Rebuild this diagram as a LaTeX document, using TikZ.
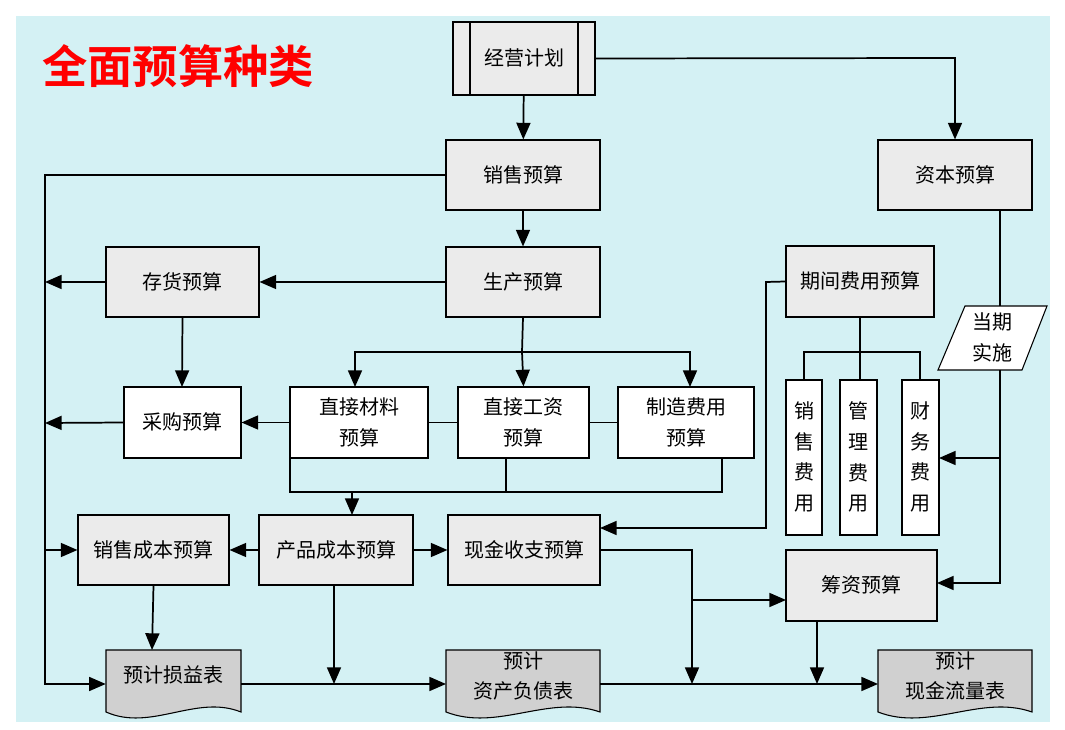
\documentclass[tikz,border=0pt]{standalone}
\usepackage{fontspec}
\setmainfont{Noto Sans CJK SC}
\newfontfamily\cjkb{Noto Sans CJK SC Bold}
\usetikzlibrary{arrows.meta,fit}
\definecolor{panel}{HTML}{D4F1F4}
\definecolor{boxg}{HTML}{EBEBEB}
\definecolor{docg}{HTML}{D0D0D0}
\newcommand\bxt[5]{\node[#1,fit={#2}] (#3) {}; \node[ghost,#5] at ([yshift=0.3pt]#3.center) {#4};}
\begin{document}
\begin{tikzpicture}[x=0.75pt,y=-0.75pt,
  every node/.style={font=\fontsize{15}{23}\selectfont},
  box/.style={draw,line width=0.8pt,fill=boxg,inner sep=0pt},
  wbox/.style={box,fill=white},
  ghost/.style={inner sep=0pt,align=center},
  ln/.style={line width=1.3pt},
  ar/.style={ln,-{Triangle[length=12.5pt,width=10.5pt]}},
]
\useasboundingbox (0,0) rectangle (1065,730);
\fill[white] (0,0) rectangle (1065,730);
\fill[panel] (16,16) rectangle (1050,722);
\node[text=red,font=\cjkb\fontsize{34}{40}\selectfont] (title) at (178,66) {全面预算种类};

% boxes
\bxt{box}{(453,22)(595,95)}{jy}{经营计划}{}
\draw[line width=0.8pt] (470,22) -- (470,95) (578,22) -- (578,95);
\bxt{box}{(446,140)(600,210)}{xs}{销售预算}{}
\bxt{box}{(878,140)(1032,210)}{zb}{资本预算}{}
\bxt{box}{(106,247)(259,317)}{ch}{存货预算}{}
\bxt{box}{(446,247)(600,317)}{sc}{生产预算}{}
\bxt{box}{(786,246)(934,317)}{qj}{期间费用预算}{}
\draw[line width=0.8pt,fill=white] (965,306) -- (1047,306) -- (1022,370) -- (938,370) -- cycle;
\node[ghost,fit={(950,306)(1035,370)}] (dq) {};
\node[ghost] at ([yshift=0.3pt]dq.center) {当期\\实施};
\bxt{wbox}{(124,387)(241,458)}{cg}{采购预算}{}
\bxt{wbox}{(290,387)(428,458)}{zc}{直接材料\\预算}{}
\bxt{wbox}{(458,387)(589,458)}{zg}{直接工资\\预算}{}
\bxt{wbox}{(618,387)(754,458)}{zz}{制造费用\\预算}{}
\bxt{wbox}{(786,380)(822,535)}{xf}{销\\售\\费\\用}{}
\bxt{wbox}{(840,380)(877,535)}{gf}{管\\理\\费\\用}{}
\bxt{wbox}{(902,380)(939,535)}{cf}{财\\务\\费\\用}{}
\bxt{box}{(78,515)(229,585)}{xc}{销售成本预算}{}
\bxt{box}{(259,515)(413,585)}{cp}{产品成本预算}{}
\bxt{box}{(448,515)(600,585)}{xj}{现金收支预算}{}
\bxt{box}{(786,550)(937,621)}{cz}{筹资预算}{}

% documents
\foreach \a/\b in {106/241,446/600,878/1032}{
  \draw[line width=0.8pt,fill=docg] (\a,650) -- (\b,650) -- (\b,712)
    .. controls ({\b-(\b-\a)/3},694) and ({\a+(\b-\a)/3},732) .. (\a,712) -- cycle;}
\node[ghost,fit={(106,650)(241,700)}] (sy) {};
\node[ghost] at (sy.center) {预计损益表};
\node[ghost,fit={(446,650)(600,702)}] (zf) {};
\node[ghost] at (zf.center) {预计\\资产负债表};
\node[ghost,fit={(878,650)(1032,702)}] (xl) {};
\node[ghost] at (xl.center) {预计\\现金流量表};

% connectors
\draw[ar] (jy) -- (xs);
\draw[ar] (jy.east) -- (955,58) -- (zb.north);
\draw[ar] (xs.west) -- (45,175) -- (45,684) -- (sy.west|-0,684);
\draw[ar] (xs) -- (sc);
\draw[ar] (sc) -- (ch);
\draw[ar] (ch.west) -- (45,282);
\draw[ar] (ch.south) -- (182,387);
\draw[ar] (cg.west) -- (45,423);
\draw[ar] (zc) -- (cg);
\draw[ln] (sc.south) -- (522,352);
\draw[ar] (522,352) -- (355,352) -- (355,387);
\draw[ar] (522,352) -- (690,352) -- (690,387);
\draw[ar] (522,352) -- (zg.north);
\draw[ln] (zc) -- (zg) (zg) -- (zz);
\draw[ln] (290,458) -- (290,492) -- (722,492) -- (722,458);
\draw[ln] (506,458) -- (506,492);
\draw[ar] (352,492) -- (352,515);
\draw[ar] (cp) -- (xc);
\draw[ar] (cp) -- (xj);
\draw[ar] (45,550) -- (xc.west);
\draw[ar] (xc.south) -- (152,650);
\draw[ar] (334,585) -- (334,684);
\draw[ar] (sy.east|-0,684) -- (446,684);
\draw[ar] (600,684) -- (878,684);
\draw[ar] (xj.east) -- (692,550) -- (692,684);
\draw[ar] (692,600) -- (786,600);
\draw[ar] (qj.west) -- (766,282) -- (766,528) -- (600,528);
\draw[ln] (qj.south) -- (860,352);
\draw[ln] (804,380) -- (804,352) -- (920,352) -- (920,380);
\draw[ln] (860,352) -- (860,380);
\draw[ln] (zb.south-|1000,0) -- (1000,306);
\draw[ar] (1000,370) -- (1000,583) -- (937,583);
\draw[ar] (1000,458) -- (939,458);
\draw[ar] (817,621) -- (817,684);
\end{tikzpicture}
\end{document}
